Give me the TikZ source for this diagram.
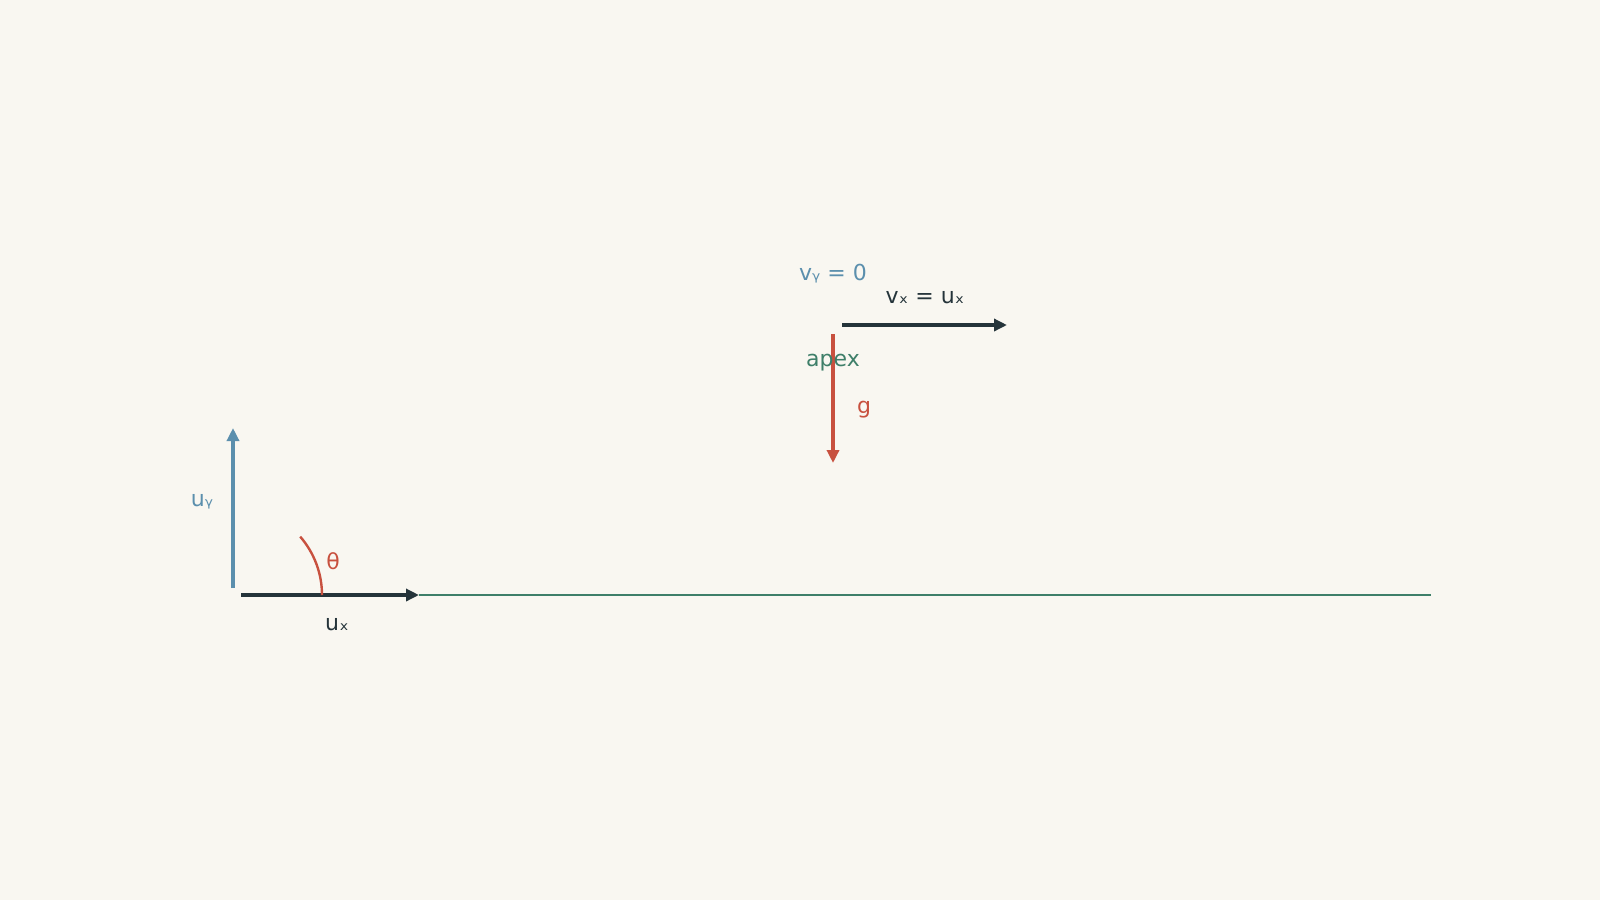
\documentclass[tikz,border=0pt]{standalone}
\usepackage{fontspec}
\setmainfont{DejaVu Sans}
\usetikzlibrary{arrows.meta}
\definecolor{bg}{HTML}{F9F7F1}
\definecolor{cblue}{HTML}{5B8FAD}
\definecolor{cred}{HTML}{C8513F}
\definecolor{cdark}{HTML}{25343A}
\definecolor{cgreen}{HTML}{3E7F69}
\tikzset{
  vec/.style={line width=3.4pt,-{Triangle[length=13pt,width=12pt]}},
  lbl/.style={inner sep=0pt,font=\fontsize{22}{26}\selectfont},
}
\begin{document}
\begin{tikzpicture}[x=1pt,y=-1pt]
\fill[bg] (0,0) rectangle (1600,900);
\useasboundingbox (0,0) rectangle (1600,900);
% coordinates
\coordinate (o) at (233,595);
\coordinate (uyend) at (233,428);
\coordinate (uystart) at (233,588);
\coordinate (uxstart) at (241,595);
\coordinate (uxend) at (419,595);
\coordinate (gend) at (1431,595);
\coordinate (arcstart) at (322,595);
\coordinate (vxstart) at (842,325);
\coordinate (vxend) at (1007,325);
\coordinate (gstart) at (833,334);
\coordinate (gtip) at (833,463);
% ground
\draw[cgreen,line width=2.8pt] (uxend) -- (gend);
% vectors
\draw[vec,cblue] (uystart) -- (uyend);
\draw[vec,cdark] (uxstart) -- (uxend);
\draw[cred,line width=2.4pt] (arcstart) arc[start angle=0,end angle=-41,radius=89];
\draw[vec,cdark] (vxstart) -- (vxend);
\draw[vec,cred] (gstart) -- (gtip);
% labels
\node[lbl,text=cblue] (uy) at (202,502) {uᵧ};
\node[lbl,text=cred] (th) at (333,561) {θ};
\node[lbl,text=cdark] (ux) at (337,624) {uₓ};
\node[lbl,text=cblue] (vy) at (833,274) {vᵧ = 0};
\node[lbl,text=cdark] (vx) at (925,297) {vₓ = uₓ};
\node[lbl,text=cgreen] (apex) at (833,363) {apex};
\node[lbl,text=cred] (g) at (864,410) {g};
\end{tikzpicture}
\end{document}
